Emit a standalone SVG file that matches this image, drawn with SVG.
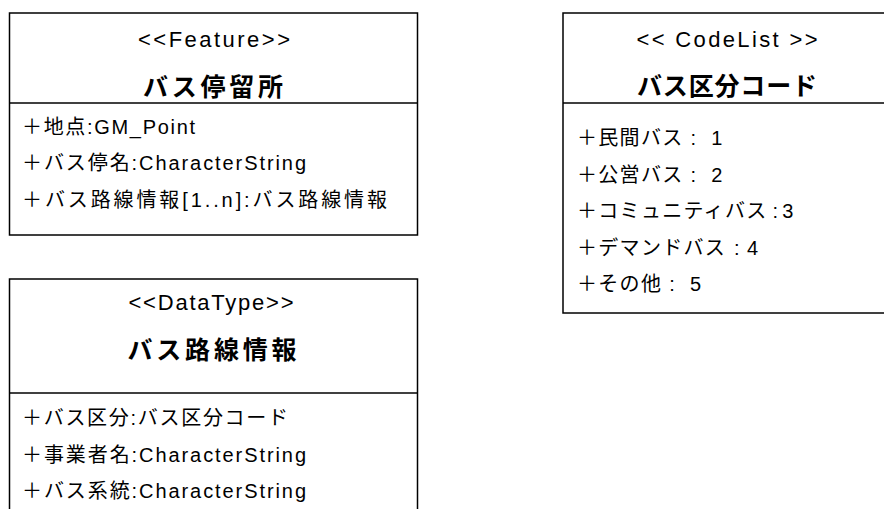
<svg xmlns="http://www.w3.org/2000/svg" width="884" height="509" viewBox="0 0 884 509">
<style>
.box{fill:#fff;stroke:#000;stroke-width:1.5}
.div{stroke:#000;stroke-width:1.5}
text{font-family:"Liberation Sans","Noto Sans CJK JP",sans-serif;fill:#000}
.st{font-size:22px;text-anchor:middle}
.ti{font-family:"Noto Sans CJK JP",sans-serif;font-size:25px;font-weight:bold;text-anchor:middle}
.at{font-size:20px}
.cl{font-size:20px;letter-spacing:1.3px}
</style>
<rect width="884" height="509" fill="#fff"/>
<g id="bus-stop">
<rect class="box" x="9.5" y="13" width="408" height="222"/>
<line class="div" x1="9.5" y1="103" x2="417.5" y2="103"/>
<text class="st" x="214" y="47" textLength="152" lengthAdjust="spacing">&lt;&lt;Feature&gt;&gt;</text>
<text class="ti" x="213" y="96" textLength="140" lengthAdjust="spacing">バス停留所</text>
<text class="at" x="22" y="134" textLength="173" lengthAdjust="spacing">＋地点:GM_Point</text>
<text class="at" x="22" y="170" textLength="284" lengthAdjust="spacing">＋バス停名:CharacterString</text>
<text class="at" x="22" y="207" textLength="365" lengthAdjust="spacing">＋バス路線情報[1..n]:バス路線情報</text>
</g>
<g id="bus-route-info">
<rect class="box" x="9.5" y="279" width="408" height="240"/>
<line class="div" x1="9.5" y1="393" x2="417.5" y2="393"/>
<text class="st" x="211" y="310" textLength="165" lengthAdjust="spacing">&lt;&lt;DataType&gt;&gt;</text>
<text class="ti" x="212" y="359" textLength="169" lengthAdjust="spacing">バス路線情報</text>
<text class="at" x="22" y="425" textLength="266" lengthAdjust="spacing">＋バス区分:バス区分コード</text>
<text class="at" x="22" y="462" textLength="284" lengthAdjust="spacing">＋事業者名:CharacterString</text>
<text class="at" x="22" y="498" textLength="284" lengthAdjust="spacing">＋バス系統:CharacterString</text>
</g>
<g id="bus-category-code">
<rect class="box" x="563" y="13" width="340" height="300"/>
<line class="div" x1="563" y1="103" x2="903" y2="103"/>
<text class="st" x="727" y="47" textLength="181" lengthAdjust="spacing">&lt;&lt; CodeList &gt;&gt;</text>
<text class="ti" x="727" y="95" textLength="180" lengthAdjust="spacing">バス区分コード</text>
<text class="cl" x="577" y="145">＋民間バス<tspan dx="7">:</tspan><tspan dx="14">1</tspan></text>
<text class="cl" x="577" y="182">＋公営バス<tspan dx="7">:</tspan><tspan dx="14">2</tspan></text>
<text class="cl" x="577" y="218">＋コミュニティバス<tspan dx="5">:</tspan><tspan dx="3">3</tspan></text>
<text class="cl" x="577" y="255">＋デマンドバス<tspan dx="8">:</tspan><tspan dx="6">4</tspan></text>
<text class="cl" x="577" y="291">＋その他<tspan dx="7">:</tspan><tspan dx="14">5</tspan></text>
</g>
<g id="connectors"/>
</svg>
